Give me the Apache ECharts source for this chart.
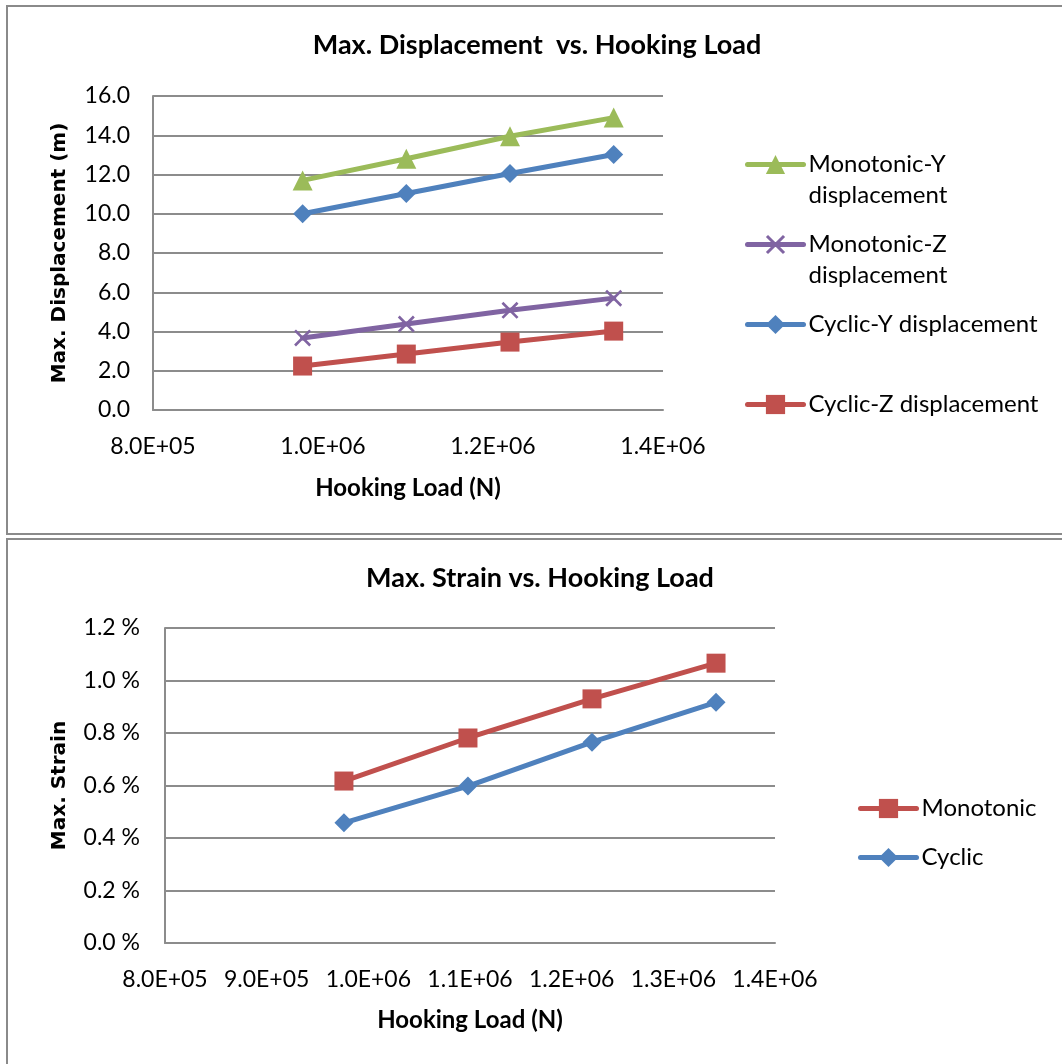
<!DOCTYPE html>
<html>
<head>
<meta charset="utf-8">
<script src="https://cdn.jsdelivr.net/npm/echarts@6/dist/echarts.min.js"></script>
<style>
  html, body { margin: 0; padding: 0; background: #fff; }
  #chart { width: 1062px; height: 1064px; }
</style>
</head>
<body>
<div id="chart"></div>
<script>
// Hooking load levels (N)
const hookingLoads = [976000, 1098000, 1220000, 1342000];

// Maximum displacement (m)
const monotonicY = [11.7, 12.8, 13.95, 14.9];
const monotonicZ = [3.67, 4.38, 5.08, 5.7];
const cyclicY = [10.0, 11.03, 12.05, 13.02];
const cyclicZ = [2.24, 2.85, 3.46, 4.02];

// Maximum strain (%)
const strainMonotonic = [0.617, 0.781, 0.93, 1.066];
const strainCyclic = [0.458, 0.598, 0.765, 0.917];

const COLORS = { green: '#9BBB59', purple: '#8064A2', blue: '#4F81BD', red: '#C0504D' };
const FONT = 'Lato, "Open Sans", sans-serif';
const GRID_GREY = '#8c8c8c';

const pair = (ys) => hookingLoads.map((x, i) => [x, ys[i]]);
const sci = (v) => {
  const [m, e] = v.toExponential(1).split('e');
  return m + 'E' + e[0] + e.slice(1).padStart(2, '0');
};

const crossSymbol = 'path://M0,1.1L1.1,0L10,8.9L8.9,10Z M8.9,0L10,1.1L1.1,10L0,8.9Z';

function lineSeries(name, data, color, symbol, size, xi, yi) {
  return {
    name, type: 'line', xAxisIndex: xi, yAxisIndex: yi,
    data: pair(data), symbol, symbolSize: size,
    lineStyle: { color, width: 5, cap: 'round' },
    itemStyle: { color },
    emphasis: { disabled: true },
    animation: false
  };
}

function legendItem(name, top, left, text) {
  return {
    data: [name], top, left, orient: 'vertical', padding: 0,
    itemWidth: 56, itemHeight: 24, itemGap: 0,
    lineStyle: { width: 5 },
    formatter: () => text,
    textStyle: { fontFamily: FONT, fontSize: 24, color: '#000', lineHeight: 31 }
  };
}

const axisLabelStyle = { fontFamily: FONT, fontSize: 23, color: '#000' };
const xNameStyle = { fontFamily: FONT, fontSize: 24, fontWeight: 'bold', color: '#000' };
const yNameStyle = { fontFamily: '"DejaVu Sans", sans-serif', fontSize: 20, fontWeight: 'bold', color: '#000' };
const titleStyle = { fontFamily: FONT, fontSize: 27, fontWeight: 'bold', color: '#000' };

const chart = echarts.init(document.getElementById('chart'), null, { renderer: 'canvas' });
chart.setOption({
  backgroundColor: '#fff',
  animation: false,
  graphic: [
    { type: 'rect', shape: { x: 7, y: 6, width: 1060, height: 528 }, style: { fill: 'none', stroke: '#8a8a8a', lineWidth: 2 }, silent: true },
    { type: 'rect', shape: { x: 7, y: 539, width: 1060, height: 540 }, style: { fill: 'none', stroke: '#8a8a8a', lineWidth: 2 }, silent: true }
  ],
  title: [
    { text: 'Max. Displacement  vs. Hooking Load', left: 537, top: 32, textAlign: 'center', padding: 0, textStyle: titleStyle },
    { text: 'Max. Strain vs. Hooking Load', left: 540, top: 565, textAlign: 'center', padding: 0, textStyle: titleStyle }
  ],
  legend: [
    legendItem('Monotonic-Y displacement', 118, 745, '\nMonotonic-Y\ndisplacement'),
    legendItem('Monotonic-Z displacement', 198, 745, '\nMonotonic-Z\ndisplacement'),
    legendItem('Cyclic-Y displacement', 309, 745, 'Cyclic-Y displacement'),
    legendItem('Cyclic-Z displacement', 389, 745, 'Cyclic-Z displacement'),
    legendItem('Monotonic', 793, 858, 'Monotonic'),
    legendItem('Cyclic', 842, 858, 'Cyclic')
  ],
  grid: [
    { left: 153, top: 96, width: 510, height: 314 },
    { left: 165, top: 628, width: 610, height: 315 }
  ],
  xAxis: [
    { type: 'value', gridIndex: 0, min: 800000, max: 1400000, interval: 200000,
      name: 'Hooking Load (N)', nameLocation: 'middle', nameGap: 66, nameTextStyle: xNameStyle,
      axisLine: { show: true, lineStyle: { color: GRID_GREY, width: 2 } },
      axisTick: { show: false }, splitLine: { show: false },
      axisLabel: Object.assign({ margin: 25, formatter: sci }, axisLabelStyle) },
    { type: 'value', gridIndex: 1, min: 800000, max: 1400000, interval: 100000,
      name: 'Hooking Load (N)', nameLocation: 'middle', nameGap: 65, nameTextStyle: xNameStyle,
      axisLine: { show: true, lineStyle: { color: GRID_GREY, width: 2 } },
      axisTick: { show: false }, splitLine: { show: false },
      axisLabel: Object.assign({ margin: 25, formatter: sci }, axisLabelStyle) }
  ],
  yAxis: [
    { type: 'value', gridIndex: 0, min: 0, max: 16, interval: 2,
      name: 'Max. Displacement (m)', nameLocation: 'middle', nameGap: 83, nameRotate: 90, nameTextStyle: yNameStyle,
      axisLine: { show: true, lineStyle: { color: GRID_GREY, width: 2 } },
      axisTick: { show: false },
      splitLine: { show: true, lineStyle: { color: GRID_GREY, width: 2 } },
      axisLabel: Object.assign({ margin: 23, formatter: (v) => v.toFixed(1) }, axisLabelStyle) },
    { type: 'value', gridIndex: 1, min: 0, max: 1.2, interval: 0.2,
      name: 'Max. Strain', nameLocation: 'middle', nameGap: 95, nameRotate: 90, nameTextStyle: yNameStyle,
      axisLine: { show: true, lineStyle: { color: GRID_GREY, width: 2 } },
      axisTick: { show: false },
      splitLine: { show: true, lineStyle: { color: GRID_GREY, width: 2 } },
      axisLabel: Object.assign({ margin: 25, formatter: (v) => v.toFixed(1) + ' %' }, axisLabelStyle) }
  ],
  series: [
    lineSeries('Monotonic-Y displacement', monotonicY, COLORS.green, 'triangle', 20, 0, 0),
    lineSeries('Monotonic-Z displacement', monotonicZ, COLORS.purple, crossSymbol, 17, 0, 0),
    lineSeries('Cyclic-Y displacement', cyclicY, COLORS.blue, 'diamond', 19, 0, 0),
    lineSeries('Cyclic-Z displacement', cyclicZ, COLORS.red, 'rect', 19, 0, 0),
    lineSeries('Monotonic', strainMonotonic, COLORS.red, 'rect', 19, 1, 1),
    lineSeries('Cyclic', strainCyclic, COLORS.blue, 'diamond', 19, 1, 1)
  ]
});
</script>
</body>
</html>
